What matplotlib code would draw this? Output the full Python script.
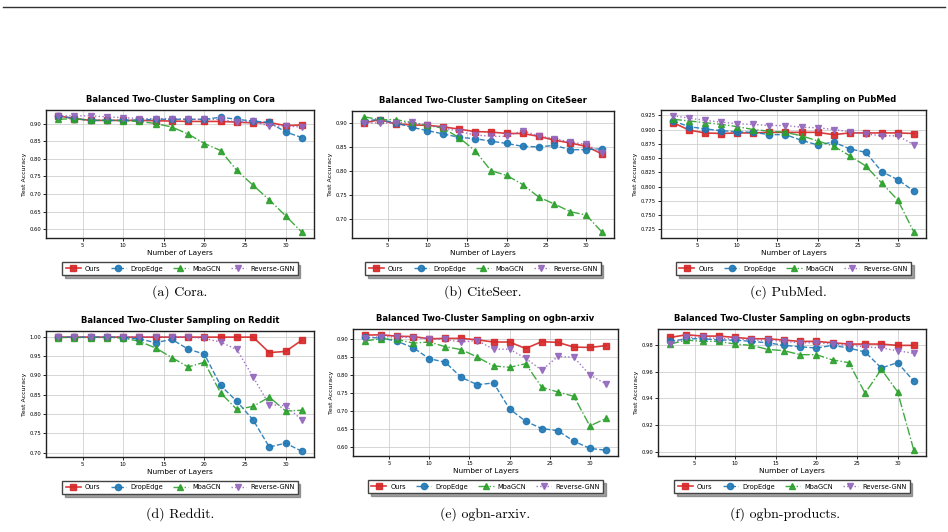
import numpy as np
import matplotlib
matplotlib.use("Agg")
import matplotlib.pyplot as plt
from matplotlib.lines import Line2D

layers = [2, 4, 6, 8, 10, 12, 14, 16, 18, 20, 22, 24, 26, 28, 30, 32]
methods = ["Ours", "DropEdge", "MbaGCN", "Reverse-GNN"]

cora_ours = [0.923, 0.915, 0.910, 0.910, 0.910, 0.910, 0.909, 0.908, 0.907, 0.907, 0.907, 0.905, 0.903, 0.904, 0.895, 0.897]
cora_drop = [0.923, 0.915, 0.910, 0.910, 0.910, 0.911, 0.913, 0.913, 0.913, 0.913, 0.919, 0.913, 0.908, 0.904, 0.877, 0.861]
cora_mba = [0.913, 0.915, 0.910, 0.910, 0.909, 0.907, 0.901, 0.891, 0.871, 0.844, 0.824, 0.767, 0.725, 0.683, 0.638, 0.591]
cora_rev = [0.923, 0.923, 0.923, 0.920, 0.918, 0.915, 0.915, 0.915, 0.913, 0.913, 0.913, 0.905, 0.907, 0.894, 0.894, 0.891]

cite_ours = [0.901, 0.908, 0.899, 0.897, 0.896, 0.893, 0.888, 0.883, 0.882, 0.879, 0.879, 0.873, 0.865, 0.859, 0.852, 0.836]
cite_drop = [0.906, 0.908, 0.901, 0.892, 0.885, 0.878, 0.871, 0.868, 0.863, 0.858, 0.852, 0.851, 0.854, 0.845, 0.845, 0.847]
cite_mba = [0.914, 0.908, 0.908, 0.902, 0.896, 0.890, 0.870, 0.843, 0.801, 0.791, 0.772, 0.746, 0.731, 0.715, 0.708, 0.672]
cite_rev = [0.901, 0.901, 0.901, 0.902, 0.896, 0.891, 0.883, 0.876, 0.873, 0.873, 0.885, 0.874, 0.868, 0.861, 0.856, 0.839]

pub_ours = [0.912, 0.899, 0.894, 0.893, 0.894, 0.894, 0.895, 0.895, 0.895, 0.895, 0.891, 0.894, 0.894, 0.894, 0.894, 0.893]
pub_drop = [0.915, 0.905, 0.901, 0.898, 0.896, 0.895, 0.891, 0.891, 0.881, 0.873, 0.878, 0.866, 0.860, 0.826, 0.812, 0.792]
pub_mba = [0.918, 0.915, 0.912, 0.909, 0.905, 0.900, 0.897, 0.895, 0.889, 0.880, 0.871, 0.854, 0.836, 0.806, 0.776, 0.720]
pub_rev = [0.924, 0.920, 0.916, 0.913, 0.910, 0.909, 0.907, 0.907, 0.904, 0.903, 0.900, 0.896, 0.892, 0.889, 0.889, 0.873]

red_ours = [0.999, 0.999, 0.999, 0.999, 0.999, 0.999, 0.999, 0.999, 0.999, 0.999, 0.999, 0.999, 0.999, 0.959, 0.962, 0.991]
red_drop = [0.999, 0.999, 0.999, 0.999, 0.998, 0.994, 0.985, 0.993, 0.968, 0.955, 0.874, 0.833, 0.785, 0.715, 0.725, 0.704]
red_mba = [0.998, 0.998, 0.998, 0.998, 0.997, 0.988, 0.971, 0.946, 0.922, 0.934, 0.855, 0.812, 0.820, 0.844, 0.808, 0.810]
red_rev = [1.000, 1.000, 1.000, 1.000, 1.000, 1.000, 1.000, 1.000, 0.999, 0.996, 0.986, 0.967, 0.896, 0.824, 0.822, 0.785]

arx_ours = [0.910, 0.911, 0.907, 0.906, 0.900, 0.901, 0.901, 0.897, 0.891, 0.891, 0.873, 0.892, 0.890, 0.877, 0.876, 0.881]
arx_drop = [0.904, 0.902, 0.893, 0.875, 0.845, 0.835, 0.793, 0.773, 0.778, 0.706, 0.672, 0.652, 0.646, 0.617, 0.597, 0.592]
arx_mba = [0.894, 0.900, 0.898, 0.888, 0.891, 0.878, 0.870, 0.849, 0.825, 0.821, 0.831, 0.766, 0.753, 0.741, 0.659, 0.680]
arx_rev = [0.902, 0.906, 0.905, 0.903, 0.900, 0.898, 0.891, 0.895, 0.871, 0.871, 0.846, 0.813, 0.851, 0.849, 0.800, 0.775]

prod_ours = [0.986, 0.988, 0.987, 0.987, 0.986, 0.985, 0.985, 0.984, 0.983, 0.983, 0.982, 0.981, 0.981, 0.981, 0.980, 0.980]
prod_drop = [0.983, 0.985, 0.985, 0.984, 0.984, 0.983, 0.982, 0.980, 0.979, 0.978, 0.980, 0.978, 0.975, 0.963, 0.967, 0.953]
prod_mba = [0.981, 0.984, 0.983, 0.983, 0.981, 0.980, 0.977, 0.976, 0.973, 0.973, 0.969, 0.967, 0.944, 0.962, 0.945, 0.901]
prod_rev = [0.981, 0.986, 0.986, 0.985, 0.985, 0.984, 0.984, 0.983, 0.982, 0.982, 0.981, 0.980, 0.979, 0.978, 0.976, 0.974]

datasets = ["Cora", "CiteSeer", "PubMed", "Reddit", "ogbn-arxiv", "ogbn-products"]
captions = ["(a) Cora.", "(b) CiteSeer.", "(c) PubMed.", "(d) Reddit.", "(e) ogbn-arxiv.", "(f) ogbn-products."]
all_series = [
    [cora_ours, cora_drop, cora_mba, cora_rev],
    [cite_ours, cite_drop, cite_mba, cite_rev],
    [pub_ours, pub_drop, pub_mba, pub_rev],
    [red_ours, red_drop, red_mba, red_rev],
    [arx_ours, arx_drop, arx_mba, arx_rev],
    [prod_ours, prod_drop, prod_mba, prod_rev],
]
ytick_sets = [
    np.arange(0.60, 0.901, 0.05),
    np.arange(0.70, 0.901, 0.05),
    np.arange(0.725, 0.926, 0.025),
    np.arange(0.70, 1.001, 0.05),
    np.arange(0.60, 0.901, 0.05),
    np.arange(0.90, 0.981, 0.02),
]
yfmt = ["%.2f", "%.2f", "%.3f", "%.2f", "%.2f", "%.2f"]

styles = [
    dict(color="#d62728", linestyle="-", marker="s", lw=1.2, ms=4.5),
    dict(color="#1f77b4", linestyle="--", marker="o", lw=1.0, ms=4.5),
    dict(color="#2ca02c", linestyle="-.", marker="^", lw=1.0, ms=4.5),
    dict(color="#9467bd", linestyle=":", marker="v", lw=1.0, ms=4.5),
]

W, H = 948, 532
fig = plt.figure(figsize=(W / 100, H / 100), dpi=100)

# page rule at top
fig.add_artist(Line2D([3 / W, 945 / W], [1 - 7 / H, 1 - 7 / H], color="#333333", lw=1.0))

boxes = [
    (46, 314, 110, 238),
    (352, 614, 111, 238),
    (661, 926, 110, 238),
    (46, 314, 331, 457),
    (353, 618, 329, 456),
    (658, 926, 329, 456),
]
cap_pos = [(180, 292), (483, 292), (788, 292), (180, 514), (485, 514), (785, 514)]

for i, (l, r, t, b) in enumerate(boxes):
    ax = fig.add_axes([l / W, 1 - b / H, (r - l) / W, (b - t) / H])
    for j, ser in enumerate(all_series[i]):
        st = styles[j]
        ax.plot(layers, ser, label=methods[j], color=st["color"], linestyle=st["linestyle"],
                marker=st["marker"], lw=st["lw"], ms=st["ms"], alpha=0.9)
    ax.set_title("Balanced Two-Cluster Sampling on " + datasets[i], fontsize=6.0,
                 fontweight="bold", pad=6)
    ax.set_xlabel("Number of Layers", fontsize=5.3, labelpad=1.5)
    ax.set_ylabel("Test Accuracy", fontsize=4.5, labelpad=2)
    ax.set_xticks([5, 10, 15, 20, 25, 30])
    ax.set_yticks(ytick_sets[i])
    ax.set_yticklabels([yfmt[i] % v for v in ytick_sets[i]])
    ax.tick_params(labelsize=3.8, length=2, width=0.6, pad=1.5)
    ax.grid(True, color="#cccccc", lw=0.7, alpha=0.8)
    for sp in ax.spines.values():
        sp.set_linewidth(1.0)
        sp.set_color("#222222")
    ax.legend(loc="upper center", bbox_to_anchor=(0.5, -0.165), ncol=4, fontsize=4.8,
              frameon=True, fancybox=False, shadow=True, edgecolor="#444444",
              handlelength=2.3, columnspacing=1.5, borderpad=0.5, handletextpad=0.6)
    cx, cy = cap_pos[i]
    fig.text(cx / W, 1 - cy / H, captions[i], ha="center", va="center",
             fontsize=10, family="cmr10")

fig.savefig("out.png", dpi=100)
